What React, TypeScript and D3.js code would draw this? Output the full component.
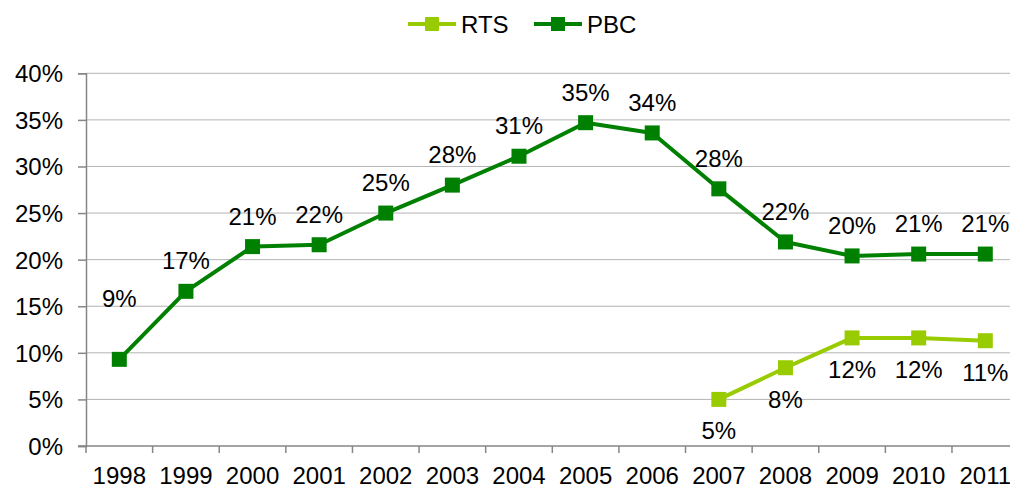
import React, { useRef, useEffect } from 'react';
import * as d3 from 'd3';

// data (percent)
const years = ['1998', '1999', '2000', '2001', '2002', '2003', '2004', '2005', '2006', '2007', '2008', '2009', '2010', '2011'];
const pbc = [9.3, 16.6, 21.4, 21.6, 25.0, 28.0, 31.1, 34.7, 33.6, 27.6, 21.9, 20.4, 20.6, 20.6];
const rtsYears = ['2007', '2008', '2009', '2010', '2011'];
const rts = [5.0, 8.4, 11.6, 11.6, 11.3];
const yTicks = [0, 5, 10, 15, 20, 25, 30, 35, 40];

const PBC_COLOR = '#008000';
const RTS_COLOR = '#99cc00';
const FONT = '"Liberation Sans", Arial, sans-serif';

const App = () => {
  const chart = useRef<SVGSVGElement>(null);

  useEffect(() => {
    const svg = d3.select(chart.current);
    svg.selectAll('*').remove();

    const left = 86;
    const right = 1018.6;
    const top = 73.3;
    const bottom = 446;

    const x = d3.scaleBand().domain(years).range([left, right]);
    const y = d3.scaleLinear().domain([0, 40]).range([bottom, top]);
    const cx = (d: string) => (x(d) as number) + x.bandwidth() / 2;

    // gridlines
    svg.append('g')
      .selectAll('line')
      .data(yTicks.filter(t => t > 0))
      .enter()
      .append('line')
      .attr('x1', left)
      .attr('x2', 1010)
      .attr('y1', d => y(d))
      .attr('y2', d => y(d))
      .attr('stroke', '#b4b4b4')
      .attr('stroke-width', 1);

    // y axis
    const yAxis = svg.append('g').attr('transform', 'translate(' + left + ',0)')
      .call(d3.axisLeft(y).tickValues(yTicks).tickSize(8).tickPadding(15).tickFormat(d => d + '%'));
    yAxis.select('.domain').attr('stroke', '#868686').attr('stroke-width', 1.5);
    yAxis.selectAll('.tick line').attr('stroke', '#868686').attr('stroke-width', 1.5);
    yAxis.selectAll('.tick text')
      .attr('font-family', FONT)
      .attr('font-size', 24)
      .attr('fill', '#000')
      .attr('dy', '0.35em');

    // x axis
    const xAxis = svg.append('g').attr('transform', 'translate(0,' + bottom + ')')
      .call(d3.axisBottom(x).tickSize(0).tickPadding(21));
    xAxis.select('.domain').remove();
    xAxis.selectAll('.tick text')
      .attr('font-family', FONT)
      .attr('font-size', 24)
      .attr('fill', '#000');
    svg.append('line')
      .attr('x1', left - 8).attr('x2', 1010)
      .attr('y1', bottom).attr('y2', bottom)
      .attr('stroke', '#868686').attr('stroke-width', 1.5);
    svg.append('g')
      .selectAll('line')
      .data(years)
      .enter()
      .append('line')
      .attr('x1', d => x(d) as number)
      .attr('x2', d => x(d) as number)
      .attr('y1', bottom)
      .attr('y2', bottom + 7)
      .attr('stroke', '#868686')
      .attr('stroke-width', 1.5);

    const line = d3.line<[string, number]>().x(d => cx(d[0])).y(d => y(d[1]));

    const drawSeries = (cats: string[], vals: number[], color: string, above: boolean) => {
      const pts: [string, number][] = cats.map((c, i) => [c, vals[i]]);
      svg.append('path')
        .datum(pts)
        .attr('d', line)
        .attr('fill', 'none')
        .attr('stroke', color)
        .attr('stroke-width', 4)
        .attr('stroke-linejoin', 'round');
      svg.append('g')
        .selectAll('rect')
        .data(pts)
        .enter()
        .append('rect')
        .attr('x', d => cx(d[0]) - 7.5)
        .attr('y', d => y(d[1]) - 7.5)
        .attr('width', 15)
        .attr('height', 15)
        .attr('fill', color);
      svg.append('g')
        .selectAll('text')
        .data(pts)
        .enter()
        .append('text')
        .attr('x', d => cx(d[0]))
        .attr('y', (d, i) => above ? y(d[1]) - 22 - (i === 0 ? 30 : 0) : y(d[1]) + 40)
        .attr('text-anchor', 'middle')
        .attr('font-family', FONT)
        .attr('font-size', 24)
        .attr('fill', '#000')
        .text(d => Math.round(d[1]) + '%');
    };

    drawSeries(years, pbc, PBC_COLOR, true);
    drawSeries(rtsYears, rts, RTS_COLOR, false);

    // legend
    const legend = [
      { name: 'RTS', color: RTS_COLOR, x: 408 },
      { name: 'PBC', color: PBC_COLOR, x: 534 },
    ];
    const lg = svg.append('g').selectAll('g').data(legend).enter().append('g')
      .attr('transform', d => 'translate(' + d.x + ',24)');
    lg.append('line').attr('x1', 0).attr('x2', 48).attr('y1', 0).attr('y2', 0)
      .attr('stroke', d => d.color).attr('stroke-width', 4);
    lg.append('rect').attr('x', 17).attr('y', -7).attr('width', 14).attr('height', 14)
      .attr('fill', d => d.color);
    lg.append('text').attr('x', 53).attr('y', 8.5)
      .attr('font-family', FONT).attr('font-size', 24).attr('fill', '#000')
      .text(d => d.name);
  });

  return (
    <svg ref={chart}
         width={1010}
         height={488}
         style={{ position: 'absolute', left: 0, top: 0, background: '#fff' }}></svg>
  );
};

export default App;
